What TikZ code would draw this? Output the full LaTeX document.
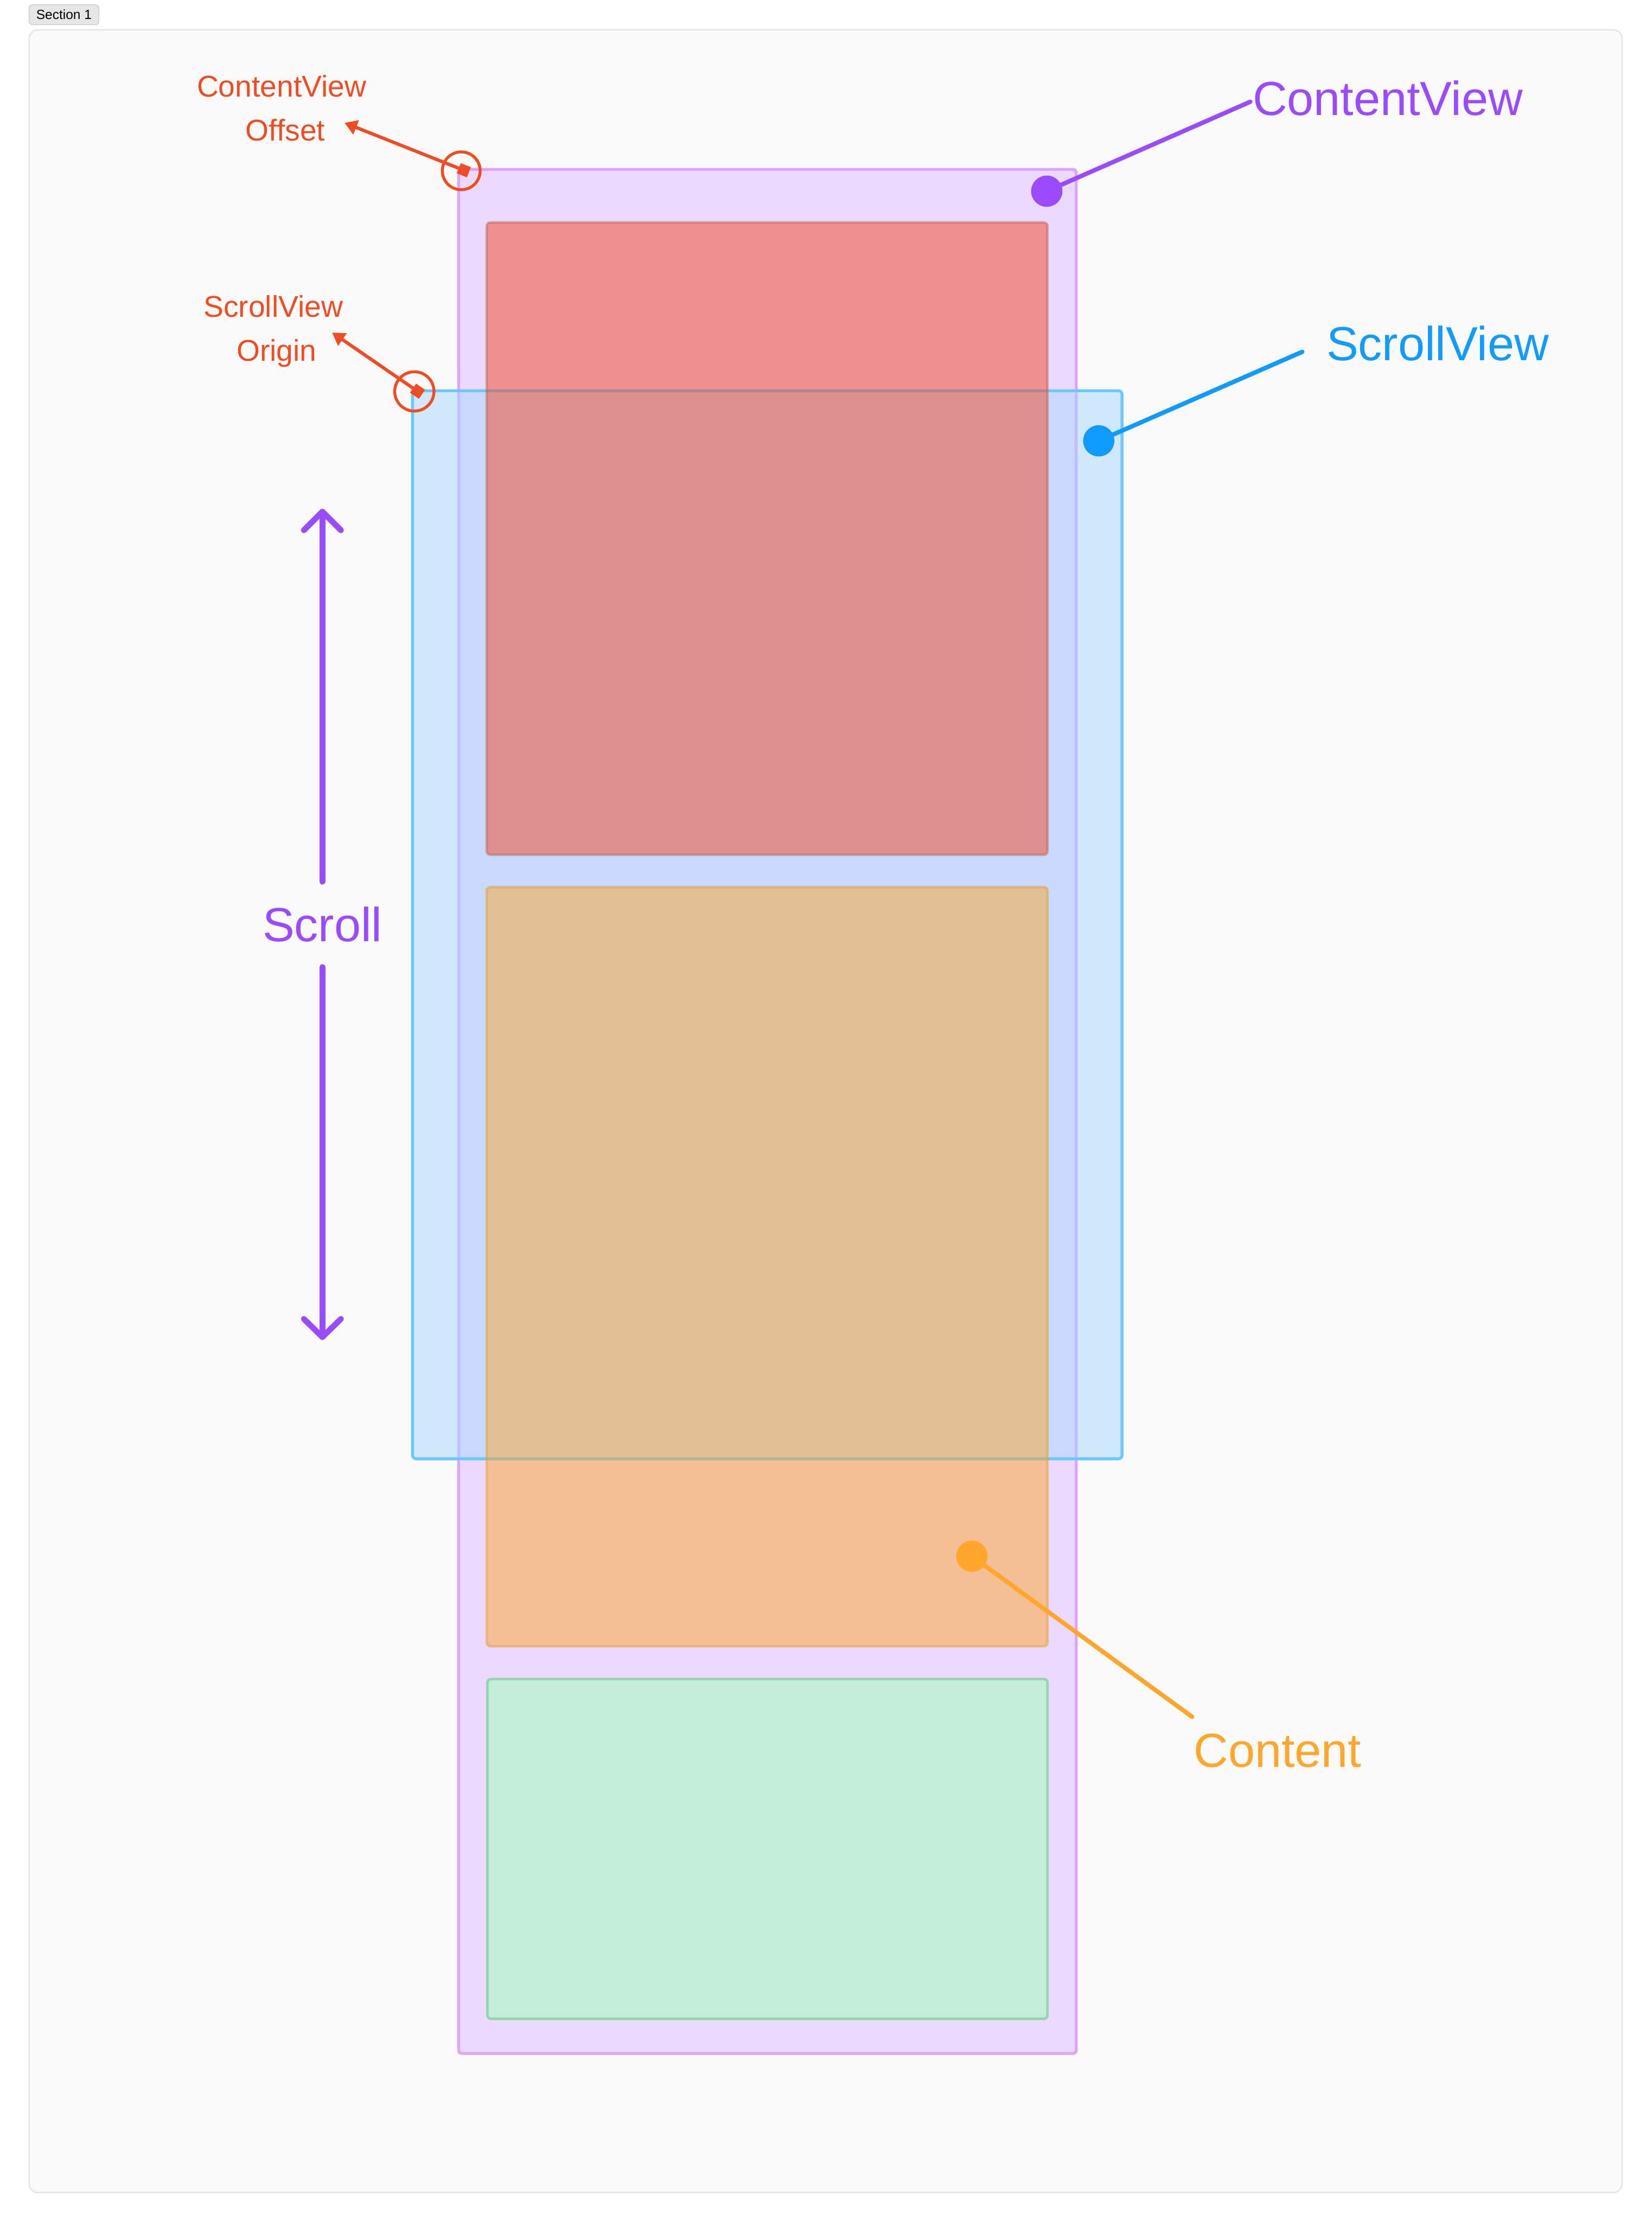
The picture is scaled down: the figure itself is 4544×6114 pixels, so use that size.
\documentclass[tikz,border=0pt]{standalone}
\usepackage{fontspec}
\setmainfont{Liberation Sans}
\usetikzlibrary{arrows.meta}
\definecolor{cvpurple}{HTML}{9A4BFF}
\definecolor{svblue}{HTML}{109CFF}
\definecolor{ctorange}{HTML}{FFA62B}
\definecolor{notered}{HTML}{F24B22}
\definecolor{panelbg}{HTML}{FAFAFA}
\definecolor{panelline}{HTML}{E6E6E6}
\definecolor{secfill}{HTML}{E6E6E6}
\definecolor{secline}{HTML}{C8C8C8}
\definecolor{purfill}{HTML}{ECD9FF}
\definecolor{purline}{HTML}{E0A3FE}
\definecolor{bluefill}{RGB}{166,216,255}
\definecolor{blueline}{RGB}{108,200,255}
\definecolor{redfill}{RGB}{242,73,31}
\definecolor{redline}{RGB}{178,104,80}
\definecolor{orafill}{RGB}{252,167,43}
\definecolor{oraline}{RGB}{224,160,40}
\definecolor{grnfill}{HTML}{C2EDD8}
\definecolor{grnline}{HTML}{98D4B0}
\tikzset{
  rectbox/.style={line width=0.07cm, rounded corners=0.1cm},
  dotnode/.style={circle, inner sep=0pt, minimum size=0.86cm, draw=none},
  leader/.style={line width=0.12cm, line cap=round},
  biglabel/.style={inner sep=0pt, font=\fontsize{37.4pt}{44pt}\selectfont},
  smalllabel/.style={inner sep=0pt, anchor=base, text=notered, font=\fontsize{23.45pt}{28pt}\selectfont},
  ringnode/.style={circle, inner sep=0pt, draw=notered, line width=0.08cm},
  notearrow/.style={draw=notered, line width=0.09cm,
    {Square[length=8.5pt,width=8.5pt]}-{Triangle[length=9.7pt,width=11.4pt]}},
  scrollarrow/.style={draw=cvpurple, line width=0.16cm, line cap=round, line join=round},
}
\begin{document}
\begin{tikzpicture}[x=0.01cm,y=-0.01cm]
\useasboundingbox (0,0) rectangle (4544,6114);
\fill[white] (0,0) rectangle (4544,6114);
% panel
\draw[line width=0.04cm, draw=panelline, fill=panelbg, rounded corners=0.25cm] (80,82) rectangle (4463,6033);
% section label
\node[draw=secline, fill=secfill, line width=0.02cm, rounded corners=0.1cm,
      minimum width=1.92cm, minimum height=0.55cm, inner sep=0pt,
      font=\fontsize{10.4pt}{12pt}\selectfont] (sec) at (176,40.5) {Section 1};
% content view (purple)
\draw[draw=purline, fill=purfill, line width=0.08cm, rounded corners=0.08cm] (1262,466) rectangle (2961,5650);
% scroll view (blue)
\fill[bluefill, fill opacity=0.5, rounded corners=0.1cm] (1135,1075) rectangle (3087,4014);
\draw[blueline, line width=0.08cm, rounded corners=0.1cm] (1135,1075) rectangle (3087,4014);
% content boxes
\filldraw[rectbox, fill=redfill, fill opacity=0.5, draw=redline, draw opacity=0.45] (1339,612) rectangle (2882,2352);
\filldraw[rectbox, fill=orafill, fill opacity=0.5, draw=oraline, draw opacity=0.45] (1339,2441) rectangle (2882,4530);
\filldraw[rectbox, fill=grnfill, draw=grnline] (1341,4620) rectangle (2882,5555);
% ContentView label
\node[dotnode, fill=cvpurple] (cvdot) at (2880,526) {};
\coordinate (cvend) at (3440,280);
\draw[leader, cvpurple] (cvdot.center) -- (cvend);
\node[biglabel, anchor=base west, text=cvpurple] (cvlabel) at (3446,317) {ContentView};
% ScrollView label
\node[dotnode, fill=svblue] (svdot) at (3023,1213) {};
\coordinate (svend) at (3583,968);
\draw[leader, svblue] (svdot.center) -- (svend);
\node[biglabel, anchor=base west, text=svblue] (svlabel) at (3649,992) {ScrollView};
% Content label
\node[dotnode, fill=ctorange] (ctdot) at (2674,4282) {};
\coordinate (ctend) at (3280,4724);
\draw[leader, ctorange] (ctdot.center) -- (ctend);
\node[biglabel, anchor=base west, text=ctorange] (ctlabel) at (3284,4863) {Content};
% Scroll arrows
\coordinate (uptip) at (887,1408);
\coordinate (upl) at (836,1459);
\coordinate (upr) at (938,1459);
\coordinate (upend) at (887,2426);
\draw[scrollarrow] (upl) -- (uptip) -- (upr);
\draw[scrollarrow] (uptip) -- (upend);
\node[biglabel, anchor=base, text=cvpurple] (scrolllabel) at (887,2590) {Scroll};
\coordinate (dnstart) at (887,2661);
\coordinate (dntip) at (887,3679);
\coordinate (dnl) at (836,3629);
\coordinate (dnr) at (938,3629);
\draw[scrollarrow] (dnstart) -- (dntip);
\draw[scrollarrow] (dnl) -- (dntip) -- (dnr);
% ContentView Offset note
\node[ringnode, minimum size=1.04cm] (cvoring) at (1269,470) {};
\coordinate (cvostart) at (1290,474);
\coordinate (cvoend) at (948,338);
\draw[notearrow] (cvostart) -- (cvoend);
\node[smalllabel] (cvotext1) at (775,267) {ContentView};
\node[smalllabel] (cvotext2) at (785,387) {Offset};
% ScrollView Origin note
\node[ringnode, minimum size=1.08cm] (svoring) at (1140,1077) {};
\coordinate (svostart) at (1161,1085);
\coordinate (svoend) at (914,915);
\draw[notearrow] (svostart) -- (svoend);
\node[smalllabel] (svotext1) at (752,873) {ScrollView};
\node[smalllabel] (svotext2) at (761,993) {Origin};
\end{tikzpicture}
\end{document}
